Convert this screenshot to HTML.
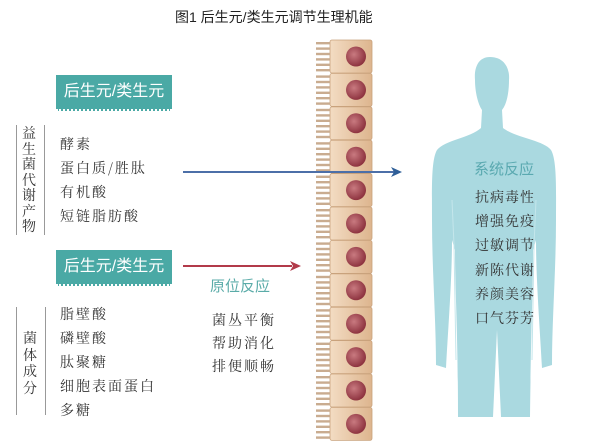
<!DOCTYPE html>
<html><head><meta charset="utf-8"><style>
body{margin:0;width:600px;height:448px;background:#fff;overflow:hidden;position:relative;font-family:"Liberation Sans","Noto Serif CJK SC","Noto Sans CJK SC",sans-serif}
.a{position:absolute;white-space:nowrap}
.box{position:absolute;left:56px;width:116px;height:34px;background:#4aa9a5;color:#fff;font:16px "Liberation Sans","Noto Sans CJK SC",sans-serif;line-height:34px;text-align:center;border-bottom:2px dotted #fff}
.li{position:absolute;font:14px "Noto Serif CJK SC",serif;color:#333;letter-spacing:2px}
.vl{position:absolute;width:1px;background:#999}
</style></head><body>
<div class="a" style="left:175px;top:7px;font:14px 'Liberation Sans','Noto Sans CJK SC',sans-serif;color:#222">图1 后生元/类生元调节生理机能</div>
<div class="box" style="top:75px">后生元/类生元</div>
<div class="box" style="top:250px">后生元/类生元</div>
<div class="vl" style="left:16px;top:125px;height:110px"></div>
<div class="vl" style="left:44px;top:125px;height:110px"></div>
<div class="li" style="left:22px;top:126px;width:15px;line-height:15.5px;font-size:14px;white-space:normal;letter-spacing:0">益生菌代谢产物</div>
<div class="li" style="left:60px;top:134px">酵素</div>
<div class="li" style="left:60px;top:158px">蛋白质/胜肽</div>
<div class="li" style="left:60px;top:182px">有机酸</div>
<div class="li" style="left:60px;top:206px">短链脂肪酸</div>
<div class="vl" style="left:16px;top:307px;height:108px"></div>
<div class="vl" style="left:45px;top:307px;height:108px"></div>
<div class="li" style="left:23px;top:330px;width:15px;line-height:16.5px;font-size:14px;white-space:normal;letter-spacing:0">菌体成分</div>
<div class="li" style="left:60px;top:304px">脂壁酸</div>
<div class="li" style="left:60px;top:328px">磷壁酸</div>
<div class="li" style="left:60px;top:352px">肽聚糖</div>
<div class="li" style="left:60px;top:376px">细胞表面蛋白</div>
<div class="li" style="left:60px;top:400px">多糖</div>
<div class="a" style="left:210px;top:275px;font:15px 'Liberation Sans','Noto Sans CJK SC',sans-serif;color:#5aaba8">原位反应</div>
<div class="li" style="left:212px;top:310px">菌丛平衡</div>
<div class="li" style="left:212px;top:333px">帮助消化</div>
<div class="li" style="left:212px;top:356px">排便顺畅</div>
<svg class="a" style="left:0;top:0" width="600" height="448">
<defs><radialGradient id="n" cx="0.4" cy="0.4" r="0.6"><stop offset="0" stop-color="#c97a80"/><stop offset="1" stop-color="#8e3440"/></radialGradient>
<linearGradient id="c" x1="0" x2="1"><stop offset="0" stop-color="#f3dcc3"/><stop offset="1" stop-color="#ddb58e"/></linearGradient></defs>
<g id="cells"></g>
<path d="M490 57 C478 57 474 68 475 80 C475 92 478 104 482 110 L481 128 C470 138 445 140 437 150 C431 160 432 190 432 220 C432 270 436 320 436 365 L446 368 C448 330 452 280 452 240 L455 250 C455 290 458 330 458 417 L493 417 L497 330 L501 417 L530 417 C531 330 533 290 533 250 L536 240 C536 280 540 330 542 368 L552 365 C552 320 556 270 556 220 C556 190 557 160 551 150 C543 140 516 138 503 128 L502 110 C507 104 509 92 509 80 C510 68 504 57 490 57 Z" fill="#aad9e0"/>
<path d="M452 200 L454 245 L456 360" stroke="#c4e6eb" stroke-width="1" fill="none"/>
<path d="M536 200 L534 245 L532 360" stroke="#c4e6eb" stroke-width="1" fill="none"/>
<line x1="183" y1="172" x2="394" y2="172" stroke="#4c6fa8" stroke-width="2"/>
<polygon points="402,172 391,167 394,172 391,177" fill="#2f5f98"/>
<line x1="183" y1="266" x2="292" y2="266" stroke="#b23a4a" stroke-width="2"/>
<polygon points="301,266 290,261 293,266 290,271" fill="#b23a4a"/>
</svg>
<div class="a" style="left:440px;top:158px;width:128px;text-align:center;font:15px 'Liberation Sans','Noto Sans CJK SC',sans-serif;color:#5aa9b0">系统反应</div>
<div class="li" style="left:475px;top:185px;line-height:24.2px;white-space:normal;width:70px;font-size:14px;letter-spacing:1px">抗病毒性<br>增强免疫<br>过敏调节<br>新陈代谢<br>养颜美容<br>口气芬芳</div>
<script>
var g=document.getElementById('cells'),s='';
for(var i=0;i<12;i++){var y=40+i*33.4;
s+='<rect x="330" y="'+y+'" width="42" height="33" rx="2" fill="url(#c)" stroke="#c9a27c" stroke-width="0.8"/>';
for(var k=0;k<6;k++)s+='<rect x="316" y="'+(y+2+k*5.4)+'" width="14" height="2.4" fill="#c9ac90"/>';
s+='<circle cx="356" cy="'+(y+16.5)+'" r="10" fill="url(#n)"/>';}
g.innerHTML=s;
</script>
</body></html>
